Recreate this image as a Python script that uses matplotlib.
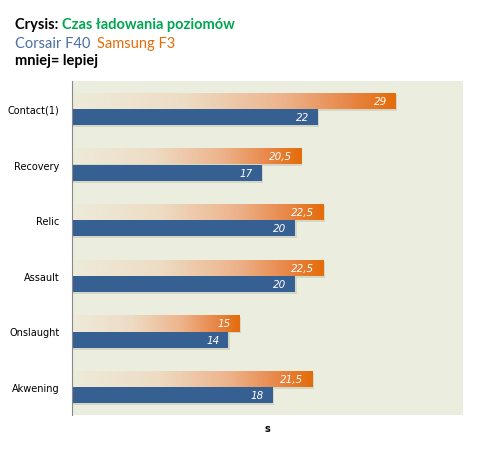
import matplotlib
matplotlib.use("Agg")

import matplotlib.pyplot as plt
import numpy as np
from matplotlib.colors import LinearSegmentedColormap
from matplotlib.patches import Rectangle

# ===============================
# data
# ===============================

categories = ["Contact(1)", "Recovery", "Relic", "Assault", "Onslaught", "Akwening"]
samsung_f3 = [29, 20.5, 22.5, 22.5, 15, 21.5]
corsair_f40 = [22, 17, 20, 20, 14, 18]
samsung_labels = ["29", "20,5", "22,5", "22,5", "15", "21,5"]
corsair_labels = ["22", "17", "20", "20", "14", "18"]

BG = "#EBEEDE"
BLUE = "#365F92"
ORANGE = "#E46C0A"
GREEN = "#00A650"

orange_cmap = LinearSegmentedColormap.from_list(
    "og", [(0.0, "#EDEBDA"), (0.35, "#EEDCC4"), (0.65, "#EDB48C"), (0.85, "#E8884A"), (1.0, ORANGE)])

fig = plt.figure(figsize=(4.8, 4.52), dpi=100)
ax = fig.add_axes([72 / 480, 1 - 416 / 452, (463 - 72) / 480, (416 - 82) / 452])
ax.set_facecolor(BG)

h = 0.29
y = np.arange(len(categories))
grad = np.linspace(0, 1, 256).reshape(1, -1)

for i in range(len(categories)):
    # soft shadow
    for v, yc in ((samsung_f3[i], y[i] - h / 2), (corsair_f40[i], y[i] + h / 2)):
        ax.add_patch(Rectangle((0.12, yc - h / 2 + 0.035), v, h, color="#a0a090",
                               alpha=0.3, lw=0, zorder=1))
    # orange gradient bar (top)
    top = y[i] - h
    im = ax.imshow(grad, cmap=orange_cmap, aspect="auto",
                   extent=(0, samsung_f3[i], top + h, top), zorder=2)
    rect = Rectangle((0, top), samsung_f3[i], h, transform=ax.transData)
    im.set_clip_path(rect)
    # blue bar (bottom)
    ax.barh(y[i] + h / 2, corsair_f40[i], height=h, color=BLUE, zorder=2)
    ax.text(samsung_f3[i] - 0.8, y[i] - h / 2, samsung_labels[i], ha="right",
            va="center", color="white", style="italic", fontsize=7.5, zorder=3)
    ax.text(corsair_f40[i] - 0.8, y[i] + h / 2, corsair_labels[i], ha="right",
            va="center", color="white", style="italic", fontsize=7.5, zorder=3)

ax.set_xlim(0, 35)
ax.set_ylim(len(categories) - 0.5, -0.5)
ax.set_yticks(y)
ax.set_yticklabels(categories, fontsize=7)
ax.set_xticks([])
ax.tick_params(axis="y", length=0, pad=9)
for s in ("top", "right", "bottom"):
    ax.spines[s].set_visible(False)
ax.spines["left"].set_color("#888888")
ax.set_xlabel("s", fontsize=7, fontweight="bold", labelpad=6)

# title block
tf = "Lato"
fs = 10.5
t1 = fig.text(15 / 480, 1 - 25 / 452, "Crysis: ", fontsize=fs, fontweight="bold",
              family=tf, va="center", color="black")
fig.canvas.draw()
bb = t1.get_window_extent()
fig.text(bb.x1 / 480, 1 - 25 / 452, "Czas ładowania poziomów", fontsize=fs,
         fontweight="bold", family=tf, va="center", color=GREEN)
t2 = fig.text(15 / 480, 1 - 44 / 452, "Corsair F40", fontsize=fs, family=tf,
              va="center", color="#4A6FA5")
fig.canvas.draw()
bb = t2.get_window_extent()
fig.text((bb.x1 + 7) / 480, 1 - 44 / 452, "Samsung F3", fontsize=fs, family=tf,
         va="center", color=ORANGE)
fig.text(15 / 480, 1 - 61 / 452, "mniej= lepiej", fontsize=fs, fontweight="bold",
         family=tf, va="center", color="black")

fig.savefig("out.png", dpi=100, facecolor="white")
